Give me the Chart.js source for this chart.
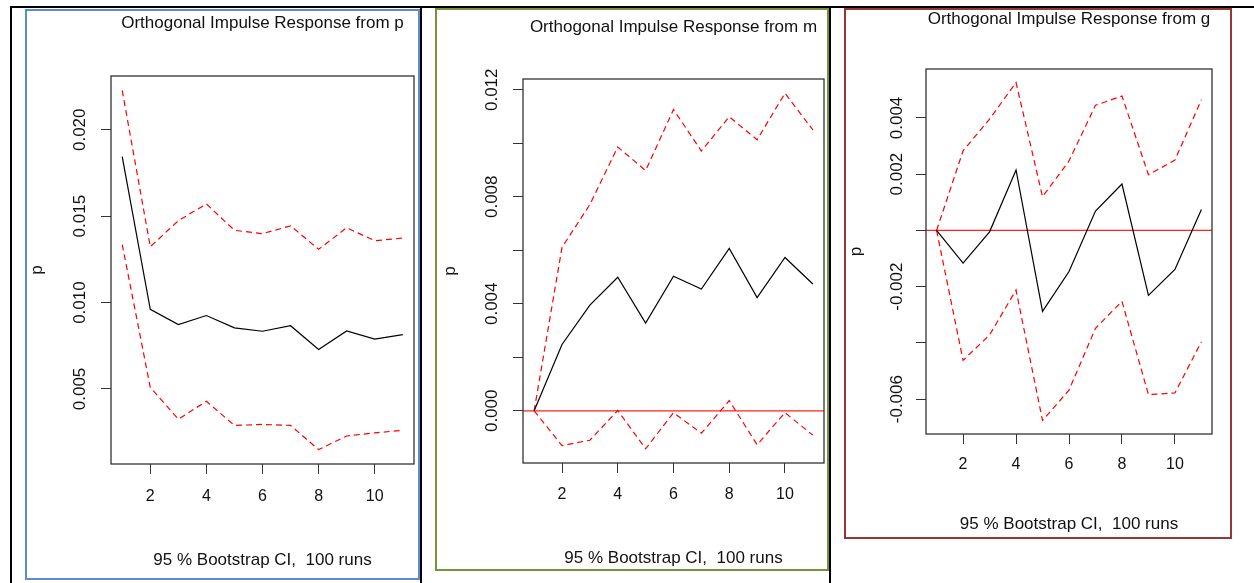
<!DOCTYPE html>
<html>
<head>
<meta charset="utf-8">
<script src="https://cdn.jsdelivr.net/npm/chart.js@4.4.1/dist/chart.umd.min.js"></script>
<style>
  html, body { margin: 0; padding: 0; background: #fff; }
  body { position: relative; width: 1254px; height: 583px; overflow: hidden; }
  .rule { position: absolute; background: #000; }
  .frame { position: absolute; border: 2px solid; box-sizing: border-box; }
  canvas { position: absolute; top: 0; }
</style>
</head>
<body>
<div class="rule" style="left:10px;top:6px;width:1244px;height:2px"></div>
<div class="rule" style="left:10px;top:6px;width:2px;height:577px"></div>
<div class="rule" style="left:420px;top:6px;width:2px;height:577px"></div>
<div class="rule" style="left:829px;top:6px;width:2px;height:577px"></div>
<div class="frame" style="left:25px;top:9px;width:395px;height:571px;border-color:#5a8dd0"></div>
<div class="frame" style="left:435px;top:8px;width:394px;height:563px;border-color:#76923c"></div>
<div class="frame" style="left:844px;top:8px;width:388px;height:531px;border-color:#953735"></div>
<canvas id="irf-p" width="405" height="578" style="left:12px"></canvas>
<canvas id="irf-m" width="403" height="578" style="left:424px"></canvas>
<canvas id="irf-g" width="382" height="578" style="left:833px"></canvas>
<script>
// horizon (steps ahead)
const horizon = [1, 2, 3, 4, 5, 6, 7, 8, 9, 10, 11];
const xTicks = [2, 4, 6, 8, 10];

// response of p to a shock in p
const pResponse = [0.01845, 0.00961, 0.00873, 0.00925, 0.00854, 0.00834, 0.00866, 0.00728, 0.00836, 0.00789, 0.00815];
const pUpper = [0.02228, 0.01323, 0.01474, 0.01571, 0.01418, 0.01399, 0.01444, 0.01308, 0.01433, 0.01358, 0.01373];
const pLower = [0.01336, 0.00509, 0.00325, 0.00429, 0.00289, 0.00295, 0.00289, 0.00149, 0.00228, 0.00246, 0.00261];
const pTicks = [0.005, 0.010, 0.015, 0.020];
const pTickLabels = ['0.005', '0.010', '0.015', '0.020'];

// response of p to a shock in m
const mResponse = [0, 0.00248, 0.00395, 0.00499, 0.00328, 0.00503, 0.00455, 0.00607, 0.00423, 0.00573, 0.00474];
const mUpper = [0, 0.00611, 0.00771, 0.00986, 0.00898, 0.01126, 0.00971, 0.01099, 0.01013, 0.01187, 0.01050];
const mLower = [0, -0.00130, -0.00110, 0.00001, -0.00142, -0.00007, -0.00084, 0.00038, -0.00127, -0.00007, -0.00091];
const mTicks = [0, 0.002, 0.004, 0.006, 0.008, 0.010, 0.012];
const mTickLabels = ['0.000', '', '0.004', '', '0.008', '', '0.012'];

// response of p to a shock in g
const gResponse = [0, -0.00116, -0.00005, 0.00215, -0.00288, -0.00146, 0.00069, 0.00165, -0.00231, -0.00139, 0.00074];
const gUpper = [0, 0.00283, 0.00396, 0.00526, 0.00120, 0.00247, 0.00445, 0.00478, 0.00198, 0.00250, 0.00465];
const gLower = [0, -0.00462, -0.00372, -0.00212, -0.00676, -0.00568, -0.00348, -0.00252, -0.00584, -0.00578, -0.00396];
const gTicks = [-0.006, -0.004, -0.002, 0, 0.002, 0.004];
const gTickLabels = ['-0.006', '', '-0.002', '', '0.002', '0.004'];

const footer = '95 % Bootstrap CI,  100 runs';
const family = '"Liberation Sans", Arial, sans-serif';
const ink = '#111';

// R pads the data range by 4% on each side
function rRange(lo, hi) {
  const d = (hi - lo) * 0.04;
  return [lo - d, hi + d];
}

function points(ys) {
  return horizon.map((h, i) => ({x: h, y: ys[i]}));
}

const boxPlugin = {
  id: 'box',
  afterDraw(chart) {
    const {ctx, chartArea: a} = chart;
    ctx.save();
    ctx.strokeStyle = '#333';
    ctx.lineWidth = 1.3;
    ctx.strokeRect(a.left, a.top, a.right - a.left, a.bottom - a.top);
    ctx.restore();
  }
};

function drawPanel(id, panel, geo) {
  const [xMin, xMax] = rRange(horizon[0], horizon[horizon.length - 1]);
  const all = panel.upper.concat(panel.lower, panel.mid);
  const [yMin, yMax] = rRange(Math.min(...all), Math.max(...all));
  const font = {family, size: 17};

  const datasets = [
    {data: points(panel.mid), borderColor: '#000', borderWidth: 1.2},
    {data: points(panel.upper), borderColor: '#ff0000', borderWidth: 1.2, borderDash: [6, 4]},
    {data: points(panel.lower), borderColor: '#ff0000', borderWidth: 1.2, borderDash: [6, 4]},
  ];
  if (panel.zeroLine) {
    datasets.push({data: [{x: xMin, y: 0}, {x: xMax, y: 0}], borderColor: '#ff2020', borderWidth: 1.3});
  }

  return new Chart(document.getElementById(id).getContext('2d'), {
    type: 'line',
    data: {datasets},
    plugins: [boxPlugin],
    options: {
      responsive: false,
      animation: false,
      layout: {autoPadding: false, padding: {right: 3}},
      elements: {point: {radius: 0}, line: {tension: 0}},
      plugins: {legend: {display: false}, tooltip: {enabled: false}},
      scales: {
        x: {
          type: 'linear', position: 'bottom', min: xMin, max: xMax,
          afterBuildTicks: s => { s.ticks = xTicks.map(v => ({value: v})); },
          afterFit: s => { s.height = geo.bottomH; },
          grid: {drawOnChartArea: false, color: '#333', tickLength: 10},
          border: {display: false},
          ticks: {font: {family, size: 16}, color: ink, padding: geo.xTickPad, autoSkip: false, maxRotation: 0},
          title: {display: true, text: footer, font, color: ink, padding: {top: 0, bottom: geo.footerPad}},
        },
        top: {
          type: 'linear', position: 'top',
          afterFit: s => { s.height = geo.topH; },
          grid: {display: false},
          border: {display: false},
          ticks: {display: false},
          title: {display: true, text: panel.title, font, color: ink, padding: {top: geo.titlePad, bottom: 0}},
        },
        y: {
          type: 'linear', position: 'left', min: yMin, max: yMax,
          afterBuildTicks: s => { s.ticks = panel.ticks.map(v => ({value: v})); },
          afterFit: s => { s.width = geo.yWidth; },
          grid: {drawOnChartArea: false, color: '#333', tickLength: 10},
          border: {display: false},
          ticks: {
            font, color: ink, padding: geo.yTickPad, autoSkip: false,
            minRotation: 90, maxRotation: 90, crossAlign: 'center',
            callback: (v, i) => panel.labels[i],
          },
          title: {display: true, text: 'p', font, color: ink, padding: {top: geo.yTitlePad, bottom: 0}},
        },
      },
    },
  });
}

drawPanel('irf-p',
  {title: 'Orthogonal Impulse Response from p', mid: pResponse, upper: pUpper, lower: pLower, ticks: pTicks, labels: pTickLabels, zeroLine: false},
  {yWidth: 99, topH: 76, bottomH: 114, titlePad: 12.8, footerPad: 7.3, yTitlePad: 15.6, yTickPad: -0.3, xTickPad: 12.8});

drawPanel('irf-m',
  {title: 'Orthogonal Impulse Response from m', mid: mResponse, upper: mUpper, lower: mLower, ticks: mTicks, labels: mTickLabels, zeroLine: true},
  {yWidth: 99, topH: 79, bottomH: 115, titlePad: 17.1, footerPad: 9.3, yTitlePad: 15.8, yTickPad: -1, xTickPad: 12.2});

drawPanel('irf-g',
  {title: 'Orthogonal Impulse Response from g', mid: gResponse, upper: gUpper, lower: gLower, ticks: gTicks, labels: gTickLabels, zeroLine: true},
  {yWidth: 93, topH: 69, bottomH: 144, titlePad: 9, footerPad: 43.8, yTitlePad: 13.5, yTickPad: -5.6, xTickPad: 11.1});
</script>
</body>
</html>
